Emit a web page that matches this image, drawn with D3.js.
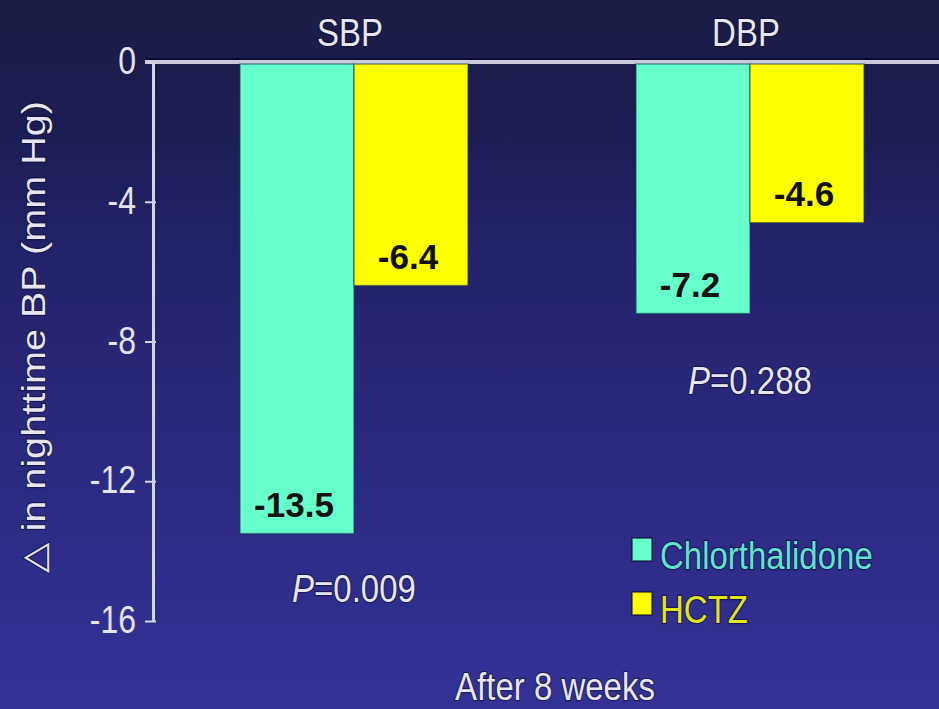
<!DOCTYPE html>
<html>
<head>
<meta charset="utf-8">
<script src="https://cdn.jsdelivr.net/npm/d3@7"></script>
<style>
  html, body { margin: 0; padding: 0; background: #1c1c4a; }
  svg { display: block; }
  text { font-family: "Liberation Sans", Arial, Helvetica, sans-serif; }
</style>
</head>
<body>
<svg id="chart" width="939" height="709"></svg>
<script>
// Nighttime BP change after 8 weeks, chlorthalidone vs HCTZ
const categories = ["SBP", "DBP"];
const seriesNames = ["Chlorthalidone", "HCTZ"];
const chlorthalidone = [-13.5, -7.2];
const hctz = [-6.4, -4.6];
const pValues = ["0.009", "0.288"];
const pLabelLevels = [-15.45, -9.5];   // level (mm Hg) at which each P value sits
const yTicks = [0, -4, -8, -12, -16];
const yTickLabels = ["0", "-4", "-8", "-12", "-16"];

const barColors = ["#66ffcc", "#ffff00"];
const legendTextColors = ["#5fe3d2", "#e4e41c"];

const W = 939, H = 709;
const K = 1.2;               // vertical stretch of the lettering
const svg = d3.select("#chart");

// background gradient
const defs = svg.append("defs");
const grad = defs.append("linearGradient")
  .attr("id", "bg").attr("x1", 0).attr("y1", 0).attr("x2", 0).attr("y2", 1);
[[0, "#1b1c46"], [0.09, "#1b1c4b"], [0.2, "#1d1d56"], [0.35, "#22226a"],
 [0.5, "#292675"], [0.65, "#2b2a80"], [0.8, "#2f2d8a"], [1, "#343296"]]
  .forEach(([o, c]) => grad.append("stop").attr("offset", o).attr("stop-color", c));
svg.append("rect").attr("width", W).attr("height", H).attr("fill", "url(#bg)");

const series = seriesNames.map((name, i) => ({
  name, color: barColors[i], values: i === 0 ? chlorthalidone : hctz
}));
const rows = categories.map((c, ci) => ({
  category: c,
  bars: series.map(s => ({ name: s.name, color: s.color, value: s.values[ci] }))
}));

// scales
const y = d3.scaleLinear().domain([0, -16]).range([62, 621]);
const x0 = d3.scaleBand().domain(categories).range([156, 948]).padding(0);
const x1 = d3.scaleBand().domain(seriesNames).range([84, 312]).padding(0);

function stretch(sel, x, yPos, extra) {
  return sel.attr("transform", `translate(${x},${yPos}) scale(1,${K})` + (extra || ""));
}

// zero line across the top
svg.append("line")
  .attr("x1", 145).attr("x2", W).attr("y1", y(0) - 3).attr("y2", y(0) - 3)
  .attr("stroke", "#0b0b33").attr("stroke-width", 2);
svg.append("line")
  .attr("x1", 145).attr("x2", W).attr("y1", y(0)).attr("y2", y(0))
  .attr("stroke", "#c9c9da").attr("stroke-width", 4);

// bars
const groups = svg.selectAll("g.group").data(rows).join("g")
  .attr("class", "group")
  .attr("transform", d => `translate(${x0(d.category)},0)`);

groups.selectAll("rect").data(d => d.bars).join("rect")
  .attr("x", d => x1(d.name))
  .attr("y", y(0) + 2)
  .attr("width", x1.bandwidth())
  .attr("height", d => y(d.value) - y(0) - 2)
  .attr("fill", d => d.color)
  .attr("stroke", "rgba(25,60,90,0.55)")
  .attr("stroke-width", 1.5);

// value labels inside bar ends
groups.selectAll("text.val").data(d => d.bars).join("text")
  .attr("class", "val")
  .attr("x", d => x1(d.name) + x1.bandwidth() / 2 - 3)
  .attr("y", d => y(d.value) - 17)
  .attr("text-anchor", "middle")
  .attr("font-size", 35)
  .attr("font-weight", "bold")
  .attr("fill", "#111")
  .text(d => d.value.toFixed(1));

// y axis
const yAxis = d3.axisLeft(y).tickValues(yTicks)
  .tickFormat((d, i) => yTickLabels[i]).tickSizeInner(8).tickSizeOuter(0);
const gy = svg.append("g").attr("transform", "translate(153,0)").call(yAxis);
gy.select(".domain").attr("stroke", "#d4d4e4").attr("stroke-width", 3);
gy.selectAll(".tick line").attr("x1", -8).attr("x2", 3)
  .attr("stroke", "#d4d4e4").attr("stroke-width", 2);
gy.selectAll(".tick text")
  .attr("x", null).attr("dy", null)
  .attr("font-size", 32).attr("fill", "#e4e4ee")
  .attr("text-anchor", "end")
  .each(function () { stretch(d3.select(this), -17, 11.5); });

const textStyle = sel => sel
  .attr("fill", "#e6e6f0")
  .attr("stroke", "rgba(10,10,40,0.55)").attr("stroke-width", 2)
  .attr("paint-order", "stroke");

// category labels
svg.selectAll("text.cat").data(categories).join("text")
  .attr("class", "cat")
  .attr("text-anchor", "middle")
  .attr("font-size", 33)
  .call(textStyle)
  .each(function (d) { stretch(d3.select(this), x0(d) + x0.bandwidth() / 2 - 4, 46); })
  .text(d => d);

// P values
svg.selectAll("text.p").data(categories).join("text")
  .attr("class", "p")
  .attr("text-anchor", "middle")
  .attr("font-size", 33)
  .call(textStyle)
  .each(function (d, i) {
    stretch(d3.select(this), x0(d) + x0.bandwidth() / 2, y(pLabelLevels[i]));
    const t = d3.select(this);
    t.append("tspan").attr("font-style", "italic").text("P");
    t.append("tspan").text("=" + pValues[i]);
  });

// y axis title
stretch(svg.append("text"), 45, 337, " rotate(-90)")
  .attr("text-anchor", "middle")
  .attr("font-size", 33)
  .call(textStyle)
  .text("△ in nighttime BP (mm Hg)");

// x axis title
stretch(svg.append("text"), 555, 700)
  .attr("text-anchor", "middle")
  .attr("font-size", 33)
  .call(textStyle)
  .text("After 8 weeks");

// legend
const legend = svg.selectAll("g.legend").data(series).join("g")
  .attr("class", "legend")
  .attr("transform", (d, i) => `translate(632,${538 + i * 54})`);
legend.append("rect")
  .attr("width", 20).attr("height", 23)
  .attr("fill", d => d.color)
  .attr("stroke", "rgba(10,10,40,0.7)").attr("stroke-width", 1.5);
legend.append("text")
  .attr("font-size", 33)
  .attr("fill", (d, i) => legendTextColors[i])
  .attr("stroke", "rgba(10,10,40,0.6)").attr("stroke-width", 2)
  .attr("paint-order", "stroke")
  .each(function () { stretch(d3.select(this), 28, 31); })
  .text(d => d.name);
</script>
</body>
</html>
